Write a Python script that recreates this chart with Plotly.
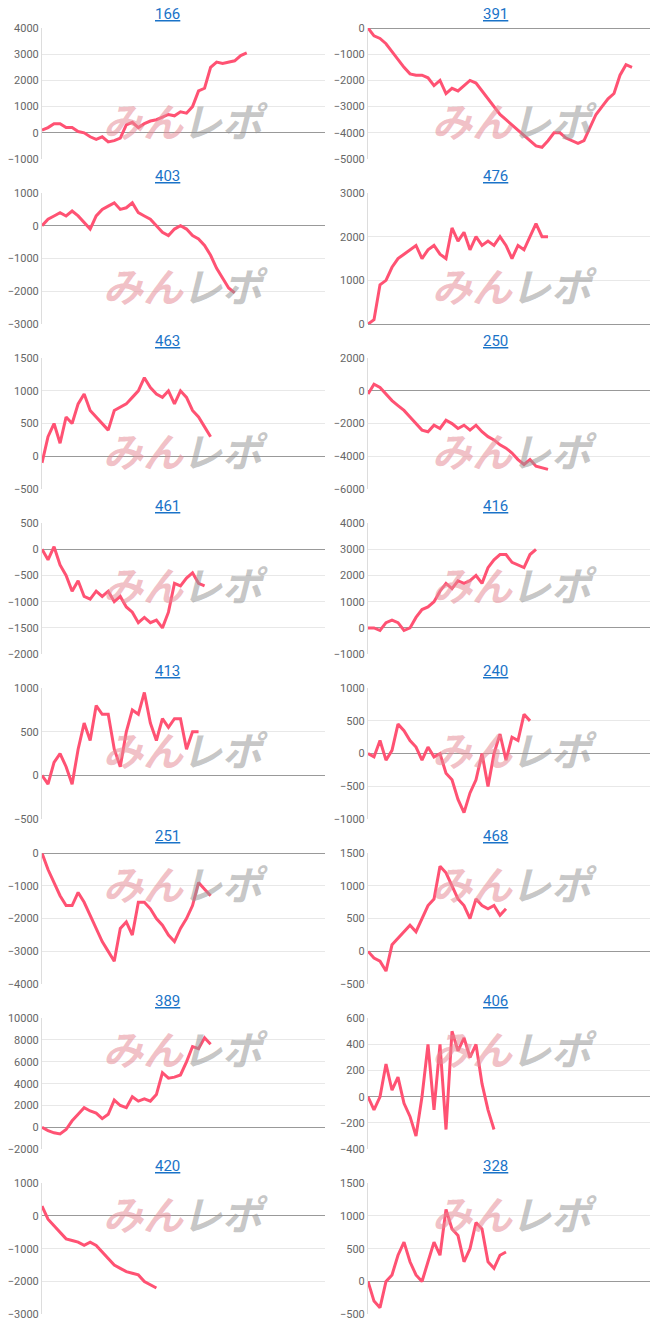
import numpy as np
import plotly.graph_objects as go

# titles, in reading order (left, right per row)
titles = ["166", "391", "403", "476", "463", "250", "461", "416",
          "413", "240", "251", "468", "389", "406", "420", "328"]

s166 = [100, 200, 350, 350, 200, 200, 50, 0, -150, -250, -150, -350, -300, -200, 300, 400, 200, 350,
        450, 500, 600, 700, 650, 800, 750, 1000, 1600, 1700, 2500, 2700, 2650, 2700, 2750, 2950, 3050]
s391 = [0, -300, -400, -600, -900, -1200, -1500, -1750, -1800, -1800, -1900, -2200, -2000, -2500, -2300,
        -2400, -2200, -2000, -2100, -2400, -2700, -3000, -3300, -3500, -3700, -3900, -4100, -4300, -4500,
        -4550, -4300, -4000, -4000, -4200, -4300, -4400, -4300, -3800, -3300, -3000, -2700, -2500, -1800,
        -1400, -1500]
s403 = [0, 200, 300, 400, 300, 450, 300, 100, -100, 300, 500, 600, 700, 500, 550, 700, 400, 300, 200, 0,
        -200, -300, -100, 0, -100, -300, -400, -600, -900, -1300, -1600, -1900, -2050]
s476 = [0, 100, 900, 1000, 1300, 1500, 1600, 1700, 1800, 1500, 1700, 1800, 1600, 1500, 2200, 1900, 2100,
        1700, 2000, 1800, 1900, 1800, 2000, 1800, 1500, 1800, 1700, 2000, 2300, 2000, 2000]
s463 = [-100, 300, 500, 200, 600, 500, 800, 950, 700, 600, 500, 400, 700, 750, 800, 900, 1000, 1200, 1050,
        950, 900, 1000, 800, 1000, 900, 700, 600, 450, 300]
s250 = [-200, 400, 200, -200, -600, -900, -1200, -1600, -2000, -2400, -2500, -2100, -2300, -1800, -2000,
        -2300, -2100, -2400, -2100, -2500, -2800, -3000, -3300, -3500, -3800, -4200, -4500, -4200, -4600,
        -4700, -4800]
s461 = [0, -200, 50, -300, -500, -800, -600, -900, -950, -800, -900, -800, -1000, -900, -1100, -1200,
        -1400, -1300, -1400, -1350, -1500, -1200, -650, -700, -550, -450, -650, -700]
s416 = [0, 0, -100, 200, 300, 200, -100, 0, 400, 700, 800, 1000, 1400, 1700, 1500, 1800, 1700, 1800,
        2000, 1700, 2300, 2600, 2800, 2800, 2500, 2400, 2300, 2800, 3000]
s413 = [0, -100, 150, 250, 100, -100, 300, 600, 400, 800, 700, 700, 300, 100, 500, 750, 700, 950, 600,
        400, 650, 550, 650, 650, 300, 500, 500]
s240 = [0, -50, 200, -100, 50, 450, 350, 200, 100, -100, 100, -50, 0, -300, -400, -700, -900, -600, -400,
        0, -500, 0, 300, -100, 250, 200, 600, 500]
s251 = [0, -500, -900, -1300, -1600, -1600, -1200, -1500, -1900, -2300, -2700, -3000, -3300, -2300, -2100,
        -2500, -1500, -1500, -1700, -2000, -2200, -2500, -2700, -2300, -2000, -1600, -900, -1100, -1300]
s468 = [0, -100, -150, -300, 100, 200, 300, 400, 300, 500, 700, 800, 1300, 1200, 1000, 800, 700, 500, 800,
        700, 650, 700, 550, 650]
s389 = [0, -300, -500, -600, -200, 600, 1200, 1800, 1500, 1300, 800, 1200, 2500, 2000, 1800, 2800, 2400,
        2600, 2400, 3000, 5000, 4500, 4600, 4800, 6000, 7400, 7200, 8200, 7600]
s406 = [0, -100, 0, 250, 50, 150, -50, -150, -300, 0, 400, -100, 400, -250, 500, 350, 450, 300, 400, 100,
        -100, -250]
s420 = [300, -100, -300, -500, -700, -750, -800, -900, -800, -900, -1100, -1300, -1500, -1600, -1700,
        -1750, -1800, -2000, -2100, -2200]
s328 = [0, -300, -400, 0, 100, 400, 600, 300, 100, 0, 300, 600, 400, 1100, 800, 700, 300, 500, 900, 800,
        300, 200, 400, 450]

series = [s166, s391, s403, s476, s463, s250, s461, s416,
          s413, s240, s251, s468, s389, s406, s420, s328]
y_ranges = [(-1000, 4000), (-5000, 0), (-3000, 1000), (0, 3000), (-500, 1500), (-6000, 2000),
            (-2000, 500), (-1000, 4000), (-500, 1000), (-1000, 1000), (-4000, 0), (-500, 1500),
            (-2000, 10000), (-400, 600), (-3000, 1000), (-500, 1500)]
y_steps = [1000, 1000, 1000, 1000, 500, 2000, 500, 1000, 500, 500, 1000, 500, 2000, 200, 1000, 500]

OFF = 8
W, H = 658 - 2 * OFF, 1320
fig = go.Figure()
layout = dict(width=W, height=H, margin=dict(l=0, r=0, t=0, b=0), showlegend=False,
              plot_bgcolor="white", paper_bgcolor="white",
              font=dict(family="Roboto, Arial", color="#555"))
annotations = []


def px_x(p, clamp=True):
    v = (p - OFF) / W
    return min(1, max(0, v)) if clamp else v


def px_y(p, clamp=True):
    v = 1 - (p - 13) / 0.99 / H
    return min(1, max(0, v)) if clamp else v


for i, (t, vals) in enumerate(zip(titles, series)):
    row, col = divmod(i, 2)
    n = i + 1
    xa = "xaxis" if n == 1 else f"xaxis{n}"
    ya = "yaxis" if n == 1 else f"yaxis{n}"
    x0, x1 = (42, 325) if col == 0 else (368, 650)
    top = 27 + 165 * row
    bot = 158 + 165 * row
    fig.add_trace(go.Scatter(x=np.arange(len(vals)), y=vals, mode="lines",
                             line=dict(color="#ff5273", width=3),
                             xaxis=f"x{n}", yaxis=f"y{n}", hoverinfo="y"))
    layout[xa] = dict(domain=[px_x(x0), px_x(x1)], range=[0, 47], showgrid=False, zeroline=False,
                      showticklabels=False, anchor=f"y{n}")
    lo, hi = y_ranges[i]
    layout[ya] = dict(domain=[px_y(bot), px_y(top)], range=[lo, hi], dtick=y_steps[i],
                      tickformat="d",
                      tickfont=dict(size=11, color="#666"), gridcolor="#e8e8e8",
                      zeroline=True, zerolinecolor="#999", zerolinewidth=1,
                      showline=True, linecolor="#ddd", anchor=f"x{n}", ticklen=0)
    tx = 167 if col == 0 else 495
    ty = 13 if row == 0 else 10 + 165 * row
    annotations.append(dict(text=f"<u>{t}</u>", x=px_x(tx), y=px_y(ty, False),
                            xanchor="center", yanchor="middle", xref="paper", yref="paper",
                            showarrow=False, font=dict(size=15, color="#1a73c8")))
    wx = 184 if col == 0 else 513
    wy = px_y(88 + 165 * row)
    annotations.append(dict(text="<b><i>みん</i></b>", x=px_x(wx - 41), y=wy, xanchor="center",
                            xref="paper", yref="paper", showarrow=False,
                            font=dict(size=40, color="rgba(230,140,150,0.55)",
                                      family="Noto Sans CJK JP")))
    annotations.append(dict(text="<b><i>レポ</i></b>", x=px_x(wx + 41), y=wy, xanchor="center",
                            xref="paper", yref="paper", showarrow=False,
                            font=dict(size=40, color="rgba(150,150,150,0.55)",
                                      family="Noto Sans CJK JP")))

layout["annotations"] = annotations
fig.update_layout(**layout)
fig.write_html("out.html")
